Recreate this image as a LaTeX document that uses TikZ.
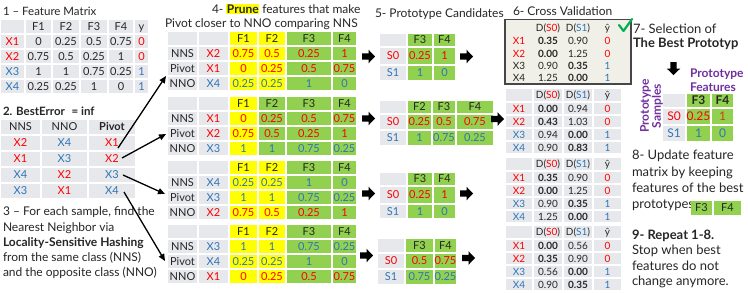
\documentclass[tikz,border=0pt]{standalone}
\usepackage{fontspec}
\setmainfont{Lato}
\usetikzlibrary{arrows.meta}
\definecolor{cred}{HTML}{FF0000}
\definecolor{cblue}{HTML}{2E75B6}
\definecolor{cyel}{HTML}{FFFF00}
\definecolor{cgrn}{HTML}{92D050}
\definecolor{cgry}{HTML}{E7E8EC}
\definecolor{cpur}{HTML}{7030A0}
\definecolor{cchk}{HTML}{00B050}
\definecolor{cbox}{HTML}{F0F0E8}
\definecolor{cdark}{HTML}{262626}
\definecolor{corg}{HTML}{D04010}
\newcommand\cR[1]{\textcolor{cred}{#1}}
\newcommand\cB[1]{\textcolor{cblue}{#1}}
\def\colsI{{0,25,52,80,108,134,149}}
\def\colsII{{0,41,88,136}}
\def\colsIV{{167,198,229,258,286,332,357}}
\def\colsVa{{379,407,433,456}}
\def\colsVb{{379,407,432,456,494}}
\def\colsVd{{377,405,434,457}}
\def\colsVI{{505,533,563,593,622}}
\def\colsVII{{662,686,711,734}}
\def\colsVIII{{690,713,742}}
\tikzset{
 cellsty/.style={inner sep=0pt, outer sep=0pt, text height=7.9pt, text depth=0pt, font=\fontsize{11}{12}\selectfont, text=cdark},
 sixsty/.style={cellsty, text height=7.2pt, font=\fontsize{10}{11}\selectfont},
 sevsty/.style={cellsty, text height=8.4pt, font=\fontsize{12}{13}\selectfont},
 lbl/.style={inner sep=0pt, outer sep=0pt, anchor=base west, text=cdark},
 thinarr/.style={line width=1.3pt, -{Triangle[length=7pt,width=6pt]}},
 barr/.pic={\fill[black] (0,-3.2) -- (6.5,-3.2) -- (6.5,-6.8) -- (13,0) -- (6.5,6.8) -- (6.5,3.2) -- (0,3.2) -- cycle;},
}
\newcommand\trow[6][cellsty]{%
 \foreach \f/\t [count=\i] in {#6} {%
  \pgfmathsetmacro\xa{#3[\i-1]}%
  \pgfmathsetmacro\xb{#3[\i]}%
  \node[#1, fill=\f, minimum width={(\xb-\xa-1.8)*1pt}, minimum height={(#5-#4-1.8)*1pt}] (#2-\i) at ({(\xa+\xb)/2},{(#4+#5)/2}) {\t};
 }}
\begin{document}
\begin{tikzpicture}[x=1pt,y=-1pt]
\fill[white] (0,0) rectangle (748,293);
\useasboundingbox (0,0) rectangle (748,293);
% ---------- 1 feature matrix
\node[lbl, font=\fontsize{11.5}{12}\selectfont] (t1) at (3,15) {1 – Feature Matrix};
\trow{fa}{\colsI}{19}{34}{cgry/{},cgry/F1,cgry/F2,cgry/F3,cgry/F4,cgry/y}
\trow{fb}{\colsI}{34}{49}{cgry/\cR{X1},cgry/0,cgry/0.25,cgry/0.5,cgry/0.75,cgry/\cR{0}}
\trow{fc}{\colsI}{49}{64}{cgry/\cR{X2},cgry/0.75,cgry/0.5,cgry/0.25,cgry/1,cgry/\cR{0}}
\trow{fd}{\colsI}{64}{79}{cgry/\cB{X3},cgry/1,cgry/1,cgry/0.75,cgry/0.25,cgry/\cB{1}}
\trow{fe}{\colsI}{79}{94}{cgry/\cB{X4},cgry/0.25,cgry/0.25,cgry/1,cgry/0,cgry/\cB{1}}
% ---------- 2
\node[lbl, font=\bfseries\fontsize{11.5}{12}\selectfont] (t2) at (3,115) {2. BestError\hspace{4pt} = inf};
\trow{na}{\colsII}{119}{135}{cgry/NNS,cgry/NNO,cgry/\textbf{Pivot}}
\trow{nb}{\colsII}{135}{151}{cgry/\cR{X2},cgry/\cB{X4},cgry/\cR{X1}}
\trow{nc}{\colsII}{151}{167}{cgry/\cR{X1},cgry/\cB{X3},cgry/\cR{X2}}
\trow{nd}{\colsII}{167}{183}{cgry/\cB{X4},cgry/\cR{X2},cgry/\cB{X3}}
\trow{ne}{\colsII}{183}{199}{cgry/\cB{X3},cgry/\cR{X1},cgry/\cB{X4}}
% ---------- 3
\begin{scope}[font=\fontsize{12}{13}\selectfont]
\node[lbl] (t3a) at (3,215) {3 – For each sample, find the};
\node[lbl] (t3b) at (3,231) {Nearest Neighbor via};
\node[lbl] (t3c) at (3,246.5) {\textbf{Locality-Sensitive Hashing}};
\node[lbl] (t3d) at (3,261.5) {from the same class (NNS)};
\node[lbl] (t3e) at (3,276.5) {and the opposite class (NNO)};
\end{scope}
% ---------- 4
\begin{scope}[font=\fontsize{12}{13}\selectfont]
\node[lbl] (t4a) at (212,13) {4- \textbf{{\fboxsep=0.5pt\colorbox{cyel}{Prune}}} features that make};
\node[lbl] (t4b) at (165,27) {Pivot closer to NNO comparing NNS};
\end{scope}
\trow{pa0}{\colsIV}{31}{46}{cgry/{},cgry/{},cyel/F1,cyel/F2,cgrn/F3,cgrn/F4}
\trow{pa1}{\colsIV}{46}{61}{cgry/NNS,cgry/\cR{X2},cyel/\cR{0.75},cyel/\cR{0.5},cgrn/\cR{0.25},cgrn/\cR{1}}
\trow{pa2}{\colsIV}{61}{76}{cgry/Pivot,cgry/\cR{X1},cyel/\cR{0},cyel/\cR{0.25},cgrn/\cR{0.5},cgrn/\cR{0.75}}
\trow{pa3}{\colsIV}{76}{91}{cgry/NNO,cgry/\cB{X4},cyel/\cB{0.25},cyel/\cB{0.25},cgrn/\cB{1},cgrn/\cB{0}}
\trow{pb0}{\colsIV}{96}{111}{cgry/{},cgry/{},cyel/F1,cgrn/F2,cgrn/F3,cgrn/F4}
\trow{pb1}{\colsIV}{111}{126}{cgry/NNS,cgry/\cR{X1},cyel/\cR{0},cgrn/\cR{0.25},cgrn/\cR{0.5},cgrn/\cR{0.75}}
\trow{pb2}{\colsIV}{126}{141}{cgry/Pivot,cgry/\cR{X2},cyel/\cR{0.75},cgrn/\cR{0.5},cgrn/\cR{0.25},cgrn/\cR{1}}
\trow{pb3}{\colsIV}{141}{156}{cgry/NNO,cgry/\cB{X3},cyel/\cB{1},cgrn/\cB{1},cgrn/\cB{0.75},cgrn/\cB{0.25}}
\trow{pc0}{\colsIV}{160}{175}{cgry/{},cgry/{},cyel/F1,cyel/F2,cgrn/F3,cgrn/F4}
\trow{pc1}{\colsIV}{175}{190}{cgry/NNS,cgry/\cB{X4},cyel/\cB{0.25},cyel/\cB{0.25},cgrn/\cB{1},cgrn/\cB{0}}
\trow{pc2}{\colsIV}{190}{205}{cgry/Pivot,cgry/\cB{X3},cyel/\cB{1},cyel/\cB{1},cgrn/\cB{0.75},cgrn/\cB{0.25}}
\trow{pc3}{\colsIV}{205}{220}{cgry/NNO,cgry/\cR{X2},cyel/\cR{0.75},cyel/\cR{0.5},cgrn/\cR{0.25},cgrn/\cR{1}}
\trow{pd0}{\colsIV}{224}{239}{cgry/{},cgry/{},cyel/F1,cyel/F2,cgrn/F3,cgrn/F4}
\trow{pd1}{\colsIV}{239}{254}{cgry/NNS,cgry/\cB{X3},cyel/\cB{1},cyel/\cB{1},cgrn/\cB{0.75},cgrn/\cB{0.25}}
\trow{pd2}{\colsIV}{254}{269}{cgry/Pivot,cgry/\cB{X4},cyel/\cB{0.25},cyel/\cB{0.25},cgrn/\cB{1},cgrn/\cB{0}}
\trow{pd3}{\colsIV}{269}{284}{cgry/NNO,cgry/\cR{X1},cyel/\cR{0},cyel/\cR{0.25},cgrn/\cR{0.5},cgrn/\cR{0.75}}
% arrows 2 -> 4
\coordinate (a1s) at (118,148); \coordinate (a1e) at (166,76);
\coordinate (a2s) at (122,158); \coordinate (a2e) at (166,134);
\coordinate (a3s) at (123,175); \coordinate (a3e) at (165,194);
\coordinate (a4s) at (124,192); \coordinate (a4e) at (165,261);
\draw[thinarr] (a1s) -- (a1e);
\draw[thinarr] (a2s) -- (a2e);
\draw[thinarr] (a3s) -- (a3e);
\draw[thinarr] (a4s) -- (a4e);
% ---------- 5
\node[lbl, font=\fontsize{12}{13}\selectfont] (t5) at (375,17) {5- Prototype Candidates};
\trow{ca0}{\colsVa}{33}{47}{cgry/{},cgrn/F3,cgrn/F4}
\trow{ca1}{\colsVa}{47}{65}{cgry/\cR{S0},cgrn/\cR{0.25},cgrn/\cR{1}}
\trow{ca2}{\colsVa}{65}{81}{cgry/\cB{S1},cgrn/\cB{1},cgrn/\cB{0}}
\trow{cb0}{\colsVb}{100}{114}{cgry/{},cgrn/F2,cgrn/F3,cgrn/F4}
\trow{cb1}{\colsVb}{114}{130}{cgry/\cR{S0},cgrn/\cR{0.25},cgrn/\cR{0.5},cgrn/\cR{0.75}}
\trow{cb2}{\colsVb}{130}{146}{cgry/\cB{S1},cgrn/\cB{1},cgrn/\cB{0.75},cgrn/\cB{0.25}}
\trow{cc0}{\colsVa}{172}{186}{cgry/{},cgrn/F3,cgrn/F4}
\trow{cc1}{\colsVa}{186}{204}{cgry/\cR{S0},cgrn/\cR{0.25},cgrn/\cR{1}}
\trow{cc2}{\colsVa}{204}{219}{cgry/\cB{S1},cgrn/\cB{1},cgrn/\cB{0}}
\trow{cd0}{\colsVd}{238}{253}{cgry/{},cgrn/F3,cgrn/F4}
\trow{cd1}{\colsVd}{253}{269}{cgry/\cR{S0},cgrn/\cR{0.5},cgrn/\cR{0.75}}
\trow{cd2}{\colsVd}{269}{285}{cgry/\cB{S1},cgrn/\cB{0.75},cgrn/\cB{0.25}}
% block arrows
\pic at (362,56.5) {barr};
\pic at (460,56.5) {barr};
\pic at (362,118.5) {barr};
\pic at (491,119) {barr};
\pic at (362,193.5) {barr};
\pic at (460,193.5) {barr};
\pic at (360,255.5) {barr};
\pic at (462,258) {barr};
% ---------- 6
\node[lbl, font=\fontsize{12}{13}\selectfont] (t6) at (513,15) {6- Cross Validation};
\draw[fill=cbox, draw=cdark!85, line width=1.3pt] (505,19.5) rectangle (631,84);
\trow[sixsty]{va0}{\colsVI}{21}{35}{none/{},none/D(\cR{S0}),none/D(\cB{S1}),none/ŷ}
\trow[sixsty]{va1}{\colsVI}{35}{47.5}{none/\cR{X1},none/\textbf{0.35},none/0.90,none/\cR{0}}
\trow[sixsty]{va2}{\colsVI}{47.5}{60}{none/\cR{X2},none/\textbf{0.00},none/1.25,none/\cR{0}}
\trow[sixsty]{va3}{\colsVI}{60}{72.5}{none/X3,none/0.90,none/\textbf{0.35},none/\cB{1}}
\trow[sixsty]{va4}{\colsVI}{72.5}{84}{none/X4,none/1.25,none/\textbf{0.00},none/\cB{1}}
\draw[cchk, line width=2.2pt, line cap=round, line join=round] (619,25) -- (623.5,31) -- (632,19);
\trow[sixsty]{vb0}{\colsVI}{88}{102}{cgry/{},cgry/D(\cR{S0}),cgry/D(\cB{S1}),cgry/ŷ}
\trow[sixsty]{vb1}{\colsVI}{102}{115}{cgry/\cR{X1},cgry/\textbf{0.00},cgry/0.94,cgry/\cR{0}}
\trow[sixsty]{vb2}{\colsVI}{115}{128}{cgry/\cR{X2},cgry/\textbf{0.43},cgry/1.03,cgry/\cR{0}}
\trow[sixsty]{vb3}{\colsVI}{128}{141}{cgry/\cB{X3},cgry/0.94,cgry/\textbf{0.00},cgry/\cB{1}}
\trow[sixsty]{vb4}{\colsVI}{141}{154}{cgry/\cB{X4},cgry/0.90,cgry/\textbf{0.83},cgry/\cB{1}}
\trow[sixsty]{vc0}{\colsVI}{157}{171}{cgry/{},cgry/D(\cR{S0}),cgry/D(\cB{S1}),cgry/ŷ}
\trow[sixsty]{vc1}{\colsVI}{171}{184}{cgry/\cR{X1},cgry/\textbf{0.35},cgry/0.90,cgry/\cR{0}}
\trow[sixsty]{vc2}{\colsVI}{184}{197}{cgry/\cR{X2},cgry/\textbf{0.00},cgry/1.25,cgry/\cR{0}}
\trow[sixsty]{vc3}{\colsVI}{197}{210}{cgry/\cB{X3},cgry/0.90,cgry/\textbf{0.35},cgry/\cB{1}}
\trow[sixsty]{vc4}{\colsVI}{210}{223}{cgry/\cB{X4},cgry/1.25,cgry/\textbf{0.00},cgry/\cB{1}}
\trow[sixsty]{vd0}{\colsVI}{225}{239}{cgry/{},cgry/D(\cR{S0}),cgry/D(\cB{S1}),cgry/ŷ}
\trow[sixsty]{vd1}{\colsVI}{239}{252}{cgry/\cR{X1},cgry/\textbf{0.00},cgry/0.56,cgry/\cR{0}}
\trow[sixsty]{vd2}{\colsVI}{252}{265}{cgry/\cR{X2},cgry/\textbf{0.35},cgry/0.90,cgry/\cR{0}}
\trow[sixsty]{vd3}{\colsVI}{265}{278}{cgry/\cB{X3},cgry/0.56,cgry/\textbf{0.00},cgry/\cB{1}}
\trow[sixsty]{vd4}{\colsVI}{278}{291}{cgry/\cB{X4},cgry/0.90,cgry/\textbf{0.35},cgry/\cB{1}}
% ---------- 7
\begin{scope}[font=\fontsize{13}{14}\selectfont]
\node[lbl] (t7a) at (633,33) {7- Selection of};
\node[lbl] (t7b) at (633,47) {\textbf{The Best Prototyp}};
\end{scope}
\pic[rotate=-90] at (673.5,62) {barr};
\begin{scope}[font=\bfseries\fontsize{12}{13}\selectfont, text=cpur]
\node[lbl, text=cpur] (pfa) at (690,77) {Prototype};
\node[lbl, text=cpur] (pfb) at (690,91) {Features};
\node[inner sep=0pt, rotate=90, align=center, text=cpur] (ps) at (651.5,106) {Prototype\\[-1pt]Samples};
\end{scope}
\trow[sevsty]{sa0}{\colsVII}{93}{108}{cgry/{},cgrn/\textbf{F3},cgrn/\textbf{F4}}
\trow[sevsty]{sa1}{\colsVII}{108}{125}{cgry/\cR{S0},cgrn/\cR{0.25},cgrn/\textcolor{corg}{1}}
\trow[sevsty]{sa2}{\colsVII}{125}{142}{cgry/\cB{S1},cgrn/\cB{1},cgrn/\cB{0}}
% ---------- 8, 9
\begin{scope}[font=\fontsize{13}{14}\selectfont]
\node[lbl] (t8a) at (632,159.5) {8- Update feature};
\node[lbl] (t8b) at (632,176) {matrix by keeping};
\node[lbl] (t8c) at (632,192) {features of the best};
\node[lbl] (t8d) at (632,208) {prototypes};
\node[lbl] (t9a) at (632,239) {\textbf{9- Repeat 1-8.}};
\node[lbl] (t9b) at (632,254.5) {Stop when best};
\node[lbl] (t9c) at (632,270) {features do not};
\node[lbl] (t9d) at (632,285) {change anymore.};
\end{scope}
\trow{ub}{\colsVIII}{200.5}{215.5}{cgrn/F3,cgrn/F4}
\end{tikzpicture}
\end{document}
